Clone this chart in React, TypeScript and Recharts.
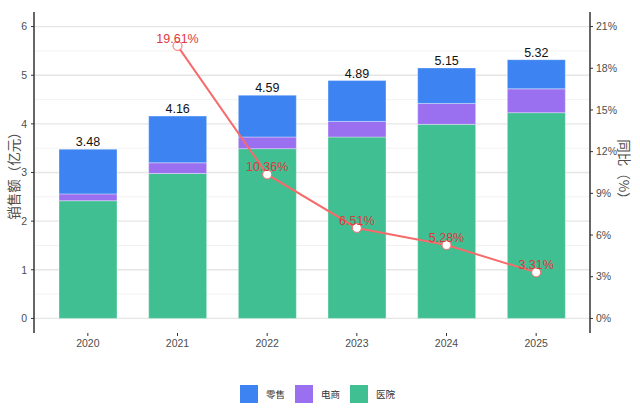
import { ComposedChart, Bar, Line, XAxis, YAxis, CartesianGrid, Legend, LabelList } from "recharts";

const years = ["2020", "2021", "2022", "2023", "2024", "2025"];
const hospital = [2.42, 2.98, 3.49, 3.73, 3.99, 4.23];
const ecommerce = [0.14, 0.22, 0.24, 0.32, 0.43, 0.49];
const retail = [0.92, 0.96, 0.86, 0.84, 0.73, 0.6];
const totals = [3.48, 4.16, 4.59, 4.89, 5.15, 5.32];
const growth: (number | null)[] = [null, 19.61, 10.36, 6.51, 5.28, 3.31];

const salesTicks = [0, 1, 2, 3, 4, 5, 6];
const salesMinor = [0.5, 1.5, 2.5, 3.5, 4.5, 5.5];
const growthTicks = [0, 3, 6, 9, 12, 15, 18, 21];

const BLUE = "#3d84f2";
const PURPLE = "#9b70f0";
const GREEN = "#3fbf92";
const LINE_RED = "#f66b6b";
const LABEL_RED = "#dc3a3c";
const TICK_GREY = "#4d4d4d";
const FONT = "'Liberation Sans', Arial, 'Noto Sans CJK SC', sans-serif";
const CJK = "'Noto Sans CJK SC', 'Liberation Sans', sans-serif";

const data = years.map((year, i) => ({
  year,
  hospital: hospital[i],
  ecommerce: ecommerce[i],
  retail: retail[i],
  total: totals[i],
  growth: growth[i],
}));

const legendItems = [
  { name: "零售", color: BLUE },
  { name: "电商", color: PURPLE },
  { name: "医院", color: GREEN },
];

function LegendContent() {
  return (
    <div
      style={{
        height: 46,
        width: 640,
        display: "flex",
        justifyContent: "flex-start",
        alignItems: "flex-end",
        paddingBottom: 6,
        paddingLeft: 240,
        boxSizing: "border-box",
        fontFamily: CJK,
        fontSize: 9.5,
        color: "#333",
      }}
    >
      {legendItems.map((item, i) => (
        <div key={item.name} style={{ display: "flex", alignItems: "center", marginRight: i < legendItems.length - 1 ? 10 : 0 }}>
          <div style={{ width: 18, height: 18, background: item.color, marginRight: 8 }} />
          <span>{item.name}</span>
        </div>
      ))}
    </div>
  );
}

function SalesTitle(props: any) {
  const vb = props.viewBox || { x: 0, y: 12, width: 34, height: 321 };
  const x = vb.x + 13;
  const y = vb.y + vb.height / 2;
  return (
    <text x={x} y={y} transform={`rotate(-90 ${x} ${y})`} textAnchor="middle" dominantBaseline="central"
      fontSize={13.5} fill={TICK_GREY} fontFamily={CJK}>
      销售额（亿元）
    </text>
  );
}

function GrowthTitle(props: any) {
  const vb = props.viewBox || { x: 590, y: 12, width: 50, height: 321 };
  const x = vb.x + 35;
  const y = vb.y + vb.height / 2;
  return (
    <text x={x} y={y} transform={`rotate(90 ${x} ${y})`} textAnchor="middle" dominantBaseline="central"
      fontSize={13.5} fill={TICK_GREY} fontFamily={CJK}>
      同比（%）
    </text>
  );
}

export default function App() {
  return (
    <div style={{ position: "absolute", left: 0, top: 0, width: 640, height: 409, background: "#fff" }}>
      <ComposedChart width={640} height={409} data={data} margin={{ top: 12, right: 0, bottom: 0, left: 0 }}>
        <CartesianGrid yAxisId="sales" vertical={false} horizontalValues={salesMinor} stroke="#efefef" strokeWidth={0.8} />
        <CartesianGrid yAxisId="sales" vertical={false} horizontalValues={salesTicks} stroke="#e6e6e6" strokeWidth={1.3} />
        <XAxis
          dataKey="year"
          padding={{ left: 9, right: 9 }}
          axisLine={false}
          tickLine={{ stroke: "#333" }}
          tickSize={3}
          tickMargin={4}
          height={30}
          tick={{ fill: TICK_GREY, fontSize: 10.5, fontFamily: FONT }}
        />
        <YAxis
          yAxisId="sales"
          width={34}
          domain={[-0.3, 6.3]}
          ticks={salesTicks}
          allowDataOverflow
          axisLine={{ stroke: "#333", strokeWidth: 1.5 }}
          tickLine={{ stroke: "#333" }}
          tickSize={3}
          tickMargin={4}
          tick={{ fill: TICK_GREY, fontSize: 10.5, fontFamily: FONT }}
          label={SalesTitle}
        />
        <YAxis
          yAxisId="growth"
          orientation="right"
          width={50}
          domain={[-1.05, 22.05]}
          ticks={growthTicks}
          allowDataOverflow
          tickFormatter={(v: number) => `${v}%`}
          axisLine={{ stroke: "#333", strokeWidth: 1.5 }}
          tickLine={{ stroke: "#333" }}
          tickSize={3}
          tickMargin={3}
          tick={{ fill: TICK_GREY, fontSize: 10.5, fontFamily: FONT }}
          label={GrowthTitle}
        />
        <Bar yAxisId="sales" dataKey="hospital" name="医院" stackId="s" fill={GREEN} stroke="#ffffff" strokeOpacity={0.35} strokeWidth={1} barSize={58} isAnimationActive={false} />
        <Bar yAxisId="sales" dataKey="ecommerce" name="电商" stackId="s" fill={PURPLE} stroke="#ffffff" strokeOpacity={0.35} strokeWidth={1} barSize={58} isAnimationActive={false} />
        <Bar yAxisId="sales" dataKey="retail" name="零售" stackId="s" fill={BLUE} stroke="#ffffff" strokeOpacity={0.35} strokeWidth={1} barSize={58} isAnimationActive={false}>
          <LabelList
            dataKey="total"
            valueAccessor={(entry: any) => entry?.payload?.total}
            position="top"
            offset={3}
            fill="#111"
            fontSize={12.5}
            fontFamily={FONT}
          />
        </Bar>
        <Line
          yAxisId="growth"
          dataKey="growth"
          type="linear"
          stroke={LINE_RED}
          strokeWidth={2}
          dot={{ r: 4.5, fill: "#fff", stroke: LINE_RED, strokeWidth: 1 }}
          activeDot={false}
          isAnimationActive={false}
        >
          <LabelList
            dataKey="growth"
            position="top"
            offset={3}
            formatter={(v: any) => (v == null ? "" : `${Number(v).toFixed(2)}%`)}
            fill={LABEL_RED}
            fontSize={12.5}
            fontFamily={FONT}
          />
        </Line>
        <Legend verticalAlign="bottom" content={LegendContent} />
      </ComposedChart>
    </div>
  );
}
